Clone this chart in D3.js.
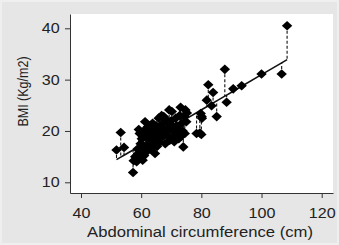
<!DOCTYPE html>
<html>
<head>
<meta charset="utf-8">
<script src="https://cdn.jsdelivr.net/npm/d3@7"></script>
<style>
  html, body { margin: 0; padding: 0; background: #efefef; }
  svg { display: block; }
  text { font-family: "Liberation Sans", Arial, sans-serif; fill: #222; }
</style>
</head>
<body>
<div id="chart"></div>
<script>
// data
const abdominal = [51.8, 53.2, 54.3, 57.3, 57.5, 58.0, 58.5, 59.0, 59.5, 60.0, 60.5, 61.0, 61.5,
  58.8, 59.8, 60.2, 59.5, 59.2, 60.5, 61.0, 61.3, 62.0, 62.5, 62.8, 63.0, 63.5, 64.0, 64.6,
  64.2, 64.8, 65.0, 65.5, 66.0, 66.2, 66.5, 67.0, 67.3, 67.8, 68.0, 68.3, 68.8, 69.0, 69.3,
  69.8, 70.2, 70.5, 70.8, 71.0, 71.5, 72.0, 72.3, 72.8, 73.1, 73.5, 73.8, 74.0, 74.3, 74.7,
  75.0, 74.5, 75.2, 63.8, 65.8, 62.2, 61.8, 60.8, 66.8, 68.5, 71.8, 67.5, 69.5, 64.5, 63.2,
  62.0, 65.3, 70.0, 72.5, 73.3,
  78.4, 79.5, 80.0, 79.8, 80.2, 80.1, 81.8, 82.3, 83.4, 83.9, 85.1, 87.8, 88.4, 90.6, 93.4,
  100.0, 106.7, 108.5];
const bmi = [16.3, 19.7, 16.8, 11.9, 14.2, 15.0, 14.0, 15.5, 14.8, 16.0, 14.3, 15.2, 15.8,
  16.5, 17.5, 18.5, 19.5, 20.3, 19.0, 17.0, 21.8, 18.5, 17.2, 19.6, 20.5, 18.0, 19.2, 15.6,
  17.5, 20.0, 21.0, 18.5, 19.5, 17.8, 20.8, 18.8, 21.5, 19.8, 17.5, 22.2, 20.5, 19.0, 24.1,
  21.2, 23.8, 20.0, 18.8, 17.9, 22.5, 20.5, 19.5, 23.0, 24.6, 21.5, 20.0, 16.9, 22.8, 24.1,
  21.8, 19.5, 23.5, 21.5, 22.5, 20.8, 19.8, 20.0, 23.0, 21.8, 21.0, 22.8, 18.2, 18.8, 16.5,
  16.2, 17.0, 22.0, 18.5, 19.0,
  19.5, 19.6, 19.3, 23.4, 22.5, 22.8, 26.0, 29.0, 24.9, 27.5, 22.8, 32.0, 25.6, 28.2, 28.8,
  31.1, 31.1, 40.5];

const xTicks = [40, 60, 80, 100, 120];
const yTicks = [10, 20, 30, 40];
const xLabel = 'Abdominal circumference (cm)';
const yLabel = 'BMI (Kg/m2)';

const W = 339, H = 245;
const PLOT = {left: 70, right: 333, top: 14, bottom: 193};
const STRETCH = 1.15; // the picture's text is a bit wide

const points = abdominal.map((x, i) => ({x: x, y: bmi[i]}));

// least squares fit
const mx = d3.mean(points, d => d.x), my = d3.mean(points, d => d.y);
const slope = d3.sum(points, d => (d.x - mx) * (d.y - my)) / d3.sum(points, d => (d.x - mx) ** 2);
const icpt = my - slope * mx;
points.forEach(d => d.fit = icpt + slope * d.x);

const xScale = d3.scaleLinear().domain([36.34, 123.76]).range([PLOT.left, PLOT.right]);
const yScale = d3.scaleLinear().domain([7.915, 42.786]).range([PLOT.bottom, PLOT.top]);

const svg = d3.select('#chart').append('svg')
  .attr('width', W).attr('height', H);

svg.append('rect')
  .attr('x', 2).attr('y', 2).attr('width', W - 4).attr('height', H - 4)
  .attr('fill', '#e6e6e6');

svg.append('rect')
  .attr('x', PLOT.left).attr('y', PLOT.top)
  .attr('width', PLOT.right - PLOT.left).attr('height', PLOT.bottom - PLOT.top)
  .attr('fill', '#fff');

const g = svg.append('g');

// residuals
g.selectAll('line.resid').data(points).join('line')
  .attr('class', 'resid')
  .attr('x1', d => xScale(d.x)).attr('x2', d => xScale(d.x))
  .attr('y1', d => yScale(d.y)).attr('y2', d => yScale(d.fit))
  .attr('stroke', '#111').attr('stroke-width', 1.1)
  .attr('stroke-dasharray', '3,2');

// fitted line
const sorted = points.slice().sort((a, b) => a.x - b.x);
g.append('path')
  .datum(sorted)
  .attr('fill', 'none')
  .attr('stroke', '#111')
  .attr('stroke-width', 1.6)
  .attr('d', d3.line().x(d => xScale(d.x)).y(d => yScale(d.fit)));

// diamonds
g.selectAll('path.pt').data(points).join('path')
  .attr('class', 'pt')
  .attr('transform', d => `translate(${xScale(d.x)},${yScale(d.y)})`)
  .attr('d', 'M0,-4.8L5.2,0L0,4.8L-5.2,0Z')
  .attr('fill', '#000');

// axes
const xAxis = svg.append('g')
  .attr('transform', `translate(0,${PLOT.bottom})`)
  .call(d3.axisBottom(xScale).tickValues(xTicks).tickSize(5).tickSizeOuter(0).tickPadding(10));
const yAxis = svg.append('g')
  .attr('transform', `translate(${PLOT.left},0)`)
  .call(d3.axisLeft(yScale).tickValues(yTicks).tickSize(5).tickSizeOuter(0).tickPadding(4));

[xAxis, yAxis].forEach(a => {
  a.selectAll('path, line').attr('stroke', '#333');
  a.selectAll('text')
    .attr('font-size', 14)
    .attr('font-family', '"Liberation Sans", Arial, sans-serif')
    .attr('fill', '#222')
    .attr('transform', `scale(${STRETCH},1)`);
});

svg.append('text')
  .attr('transform', `translate(200,237.3) scale(${STRETCH},1)`)
  .attr('text-anchor', 'middle')
  .attr('font-size', 14.5)
  .text(xLabel);

svg.append('text')
  .attr('transform', `translate(28.3,91.5) scale(${STRETCH},1) rotate(-90)`)
  .attr('text-anchor', 'middle')
  .attr('font-size', 12.5)
  .text(yLabel);
</script>
</body>
</html>
